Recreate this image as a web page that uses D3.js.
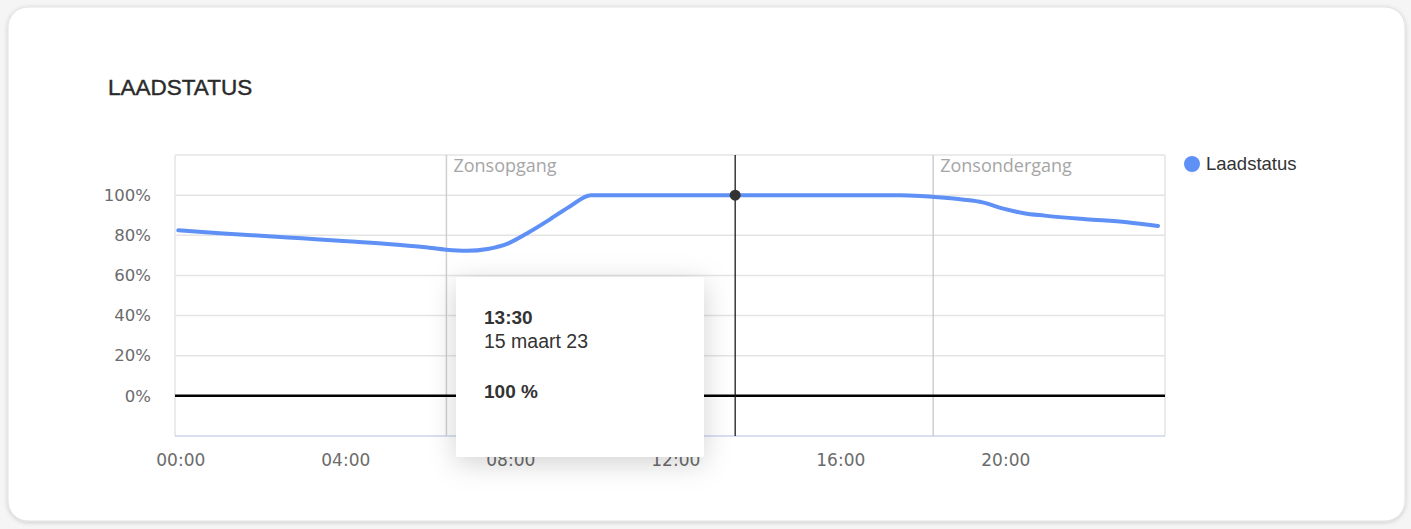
<!DOCTYPE html>
<html>
<head>
<meta charset="utf-8">
<script src="https://cdn.jsdelivr.net/npm/d3@7"></script>
<style>
  html, body { margin: 0; padding: 0; background: #f3f3f3; }
  svg { display: block; }
</style>
</head>
<body>
<svg id="chart" width="1411" height="529"></svg>
<script>
// ---- data ----
const title = "LAADSTATUS";
const seriesName = "Laadstatus";
const times = ["00:00","01:00","02:00","03:00","04:00","05:00","06:00","06:30","07:00","07:30",
  "08:00","08:30","09:00","09:30","10:00","11:00","12:00","13:00","13:30","14:00","15:00","16:00",
  "17:00","17:30","18:00","18:30","19:00","19:30","20:00","20:30","21:00","22:00","23:00","23:45"];
const values = [82.5,81,79.8,78.5,77.2,75.8,74,72.8,72.3,73.2,
  76,81.5,87.8,94.5,100,100,100,100,100,100,100,100,
  100,100,99.6,98.8,97.8,96.4,93.3,91,89.8,88,86.5,84.6];
const yTicks = [0, 20, 40, 60, 80, 100];
const xTicks = ["00:00","04:00","08:00","12:00","16:00","20:00"];
const events = [{time: "06:30", label: "Zonsopgang"}, {time: "18:18", label: "Zonsondergang"}];
const hover = {time: "13:30", date: "15 maart 23", value: 100};

// ---- helpers ----
const toH = t => { const [h, m] = t.split(":").map(Number); return h + m / 60; };
const svg = d3.select("#chart");
const W = 1411, H = 529;
const defs = svg.append("defs");
const f1 = defs.append("filter").attr("id", "cardShadow").attr("x", "-5%").attr("y", "-5%").attr("width", "110%").attr("height", "110%");
f1.append("feDropShadow").attr("dx", 0).attr("dy", 1).attr("stdDeviation", 2).attr("flood-color", "#000").attr("flood-opacity", 0.18);
const f2 = defs.append("filter").attr("id", "tipShadow").attr("x", "-30%").attr("y", "-30%").attr("width", "160%").attr("height", "160%");
f2.append("feDropShadow").attr("dx", 0).attr("dy", 6).attr("stdDeviation", 14).attr("flood-color", "#000").attr("flood-opacity", 0.18);

// card
svg.append("rect").attr("x", 0).attr("y", 0).attr("width", W).attr("height", H).attr("fill", "#f5f5f5");
svg.append("rect").attr("x", 8).attr("y", 7).attr("width", 1397).attr("height", 514).attr("rx", 20)
  .attr("fill", "#fff").attr("stroke", "#e2e2e2").attr("filter", "url(#cardShadow)");

// title
svg.append("text").attr("x", 108).attr("y", 95).text(title)
  .attr("font-family", "Liberation Sans, Arial, sans-serif").attr("font-size", 22.5)
  .attr("fill", "#2a2a2a").attr("stroke", "#2a2a2a").attr("stroke-width", 0.4);

// scales
const L = 175, R = 1165, T = 155, B = 436;
const x = d3.scaleLinear().domain([-0.08, 23.92]).range([L, R]);
const y = d3.scaleLinear().domain([-20, 120]).range([B, T]);

const g = svg.append("g");
// grid
g.selectAll(".grid").data(yTicks.filter(d => d !== 0)).join("line")
  .attr("x1", L).attr("x2", R).attr("y1", d => y(d)).attr("y2", d => y(d))
  .attr("stroke", "#e4e4e4").attr("stroke-width", 1.5);
// frame
g.append("line").attr("x1", L).attr("x2", R).attr("y1", T).attr("y2", T).attr("stroke", "#e4e4e4").attr("stroke-width", 1.5);
g.append("line").attr("x1", L).attr("x2", L).attr("y1", T).attr("y2", B).attr("stroke", "#e4e4e4").attr("stroke-width", 1.5);
g.append("line").attr("x1", R).attr("x2", R).attr("y1", T).attr("y2", B).attr("stroke", "#e4e4e4").attr("stroke-width", 1.5);
g.append("line").attr("x1", L).attr("x2", R).attr("y1", B).attr("y2", B).attr("stroke", "#cdd5ec").attr("stroke-width", 1.5);

// y axis labels
const yAxis = d3.axisLeft(y).tickValues(yTicks).tickFormat(d => d + "%").tickSize(0).tickPadding(24);
const ya = svg.append("g").attr("transform", `translate(${L},0)`).call(yAxis);
ya.select(".domain").remove();
ya.selectAll("text").attr("font-family", "DejaVu Sans, sans-serif").attr("font-size", 16.5).attr("fill", "#6b6b6b");

// x axis labels
const xAxis = d3.axisBottom(x).tickValues(xTicks.map(toH)).tickFormat(d => xTicks[xTicks.map(toH).indexOf(d)]).tickSize(0).tickPadding(18);
const xa = svg.append("g").attr("transform", `translate(0,${B})`).call(xAxis);
xa.select(".domain").remove();
xa.selectAll("text").attr("font-family", "DejaVu Sans, sans-serif").attr("font-size", 17).attr("fill", "#6b6b6b").attr("dx", 2);

// events
events.forEach(e => {
  g.append("line").attr("x1", x(toH(e.time))).attr("x2", x(toH(e.time))).attr("y1", T).attr("y2", B)
    .attr("stroke", "#cfcfcf").attr("stroke-width", 1.5);
  g.append("text").attr("x", x(toH(e.time)) + 7).attr("y", T + 17).text(e.label)
    .attr("font-family", "Open Sans, sans-serif").attr("font-size", 18).attr("fill", "#a6a6a6");
});

// zero line
g.append("line").attr("x1", L).attr("x2", R).attr("y1", y(0)).attr("y2", y(0)).attr("stroke", "#000").attr("stroke-width", 2.5);

// series line
const data = times.map((t, i) => ({h: toH(t), v: values[i]}));
g.append("path").datum(data)
  .attr("d", d3.line().x(d => x(d.h)).y(d => y(d.v)).curve(d3.curveMonotoneX))
  .attr("fill", "none").attr("stroke", "#5f90f5").attr("stroke-width", 4).attr("stroke-linecap", "round").attr("stroke-linejoin", "round");

// hover line + dot
const hx = x(toH(hover.time));
g.append("line").attr("x1", hx).attr("x2", hx).attr("y1", T).attr("y2", B).attr("stroke", "#1a1a1a").attr("stroke-width", 1.3);
g.append("circle").attr("cx", hx).attr("cy", y(hover.value)).attr("r", 5.5).attr("fill", "#333");

// legend
svg.append("circle").attr("cx", 1192).attr("cy", 164).attr("r", 8).attr("fill", "#5f90f5");
svg.append("text").attr("x", 1206).attr("y", 170).text(seriesName)
  .attr("font-family", "Liberation Sans, Arial, sans-serif").attr("font-size", 18.5).attr("fill", "#333");

// tooltip
const tip = svg.append("g").attr("transform", "translate(456,277)");
tip.append("rect").attr("width", 248).attr("height", 180).attr("rx", 2).attr("fill", "#fff").attr("filter", "url(#tipShadow)");
tip.append("text").attr("x", 28).attr("y", 47).text(hover.time)
  .attr("font-family", "Liberation Sans, Arial, sans-serif").attr("font-size", 19).attr("font-weight", "bold").attr("fill", "#333");
tip.append("text").attr("x", 28).attr("y", 71).text(hover.date)
  .attr("font-family", "Liberation Sans, Arial, sans-serif").attr("font-size", 19.5).attr("fill", "#333");
tip.append("text").attr("x", 28).attr("y", 121).text(hover.value + " %")
  .attr("font-family", "Liberation Sans, Arial, sans-serif").attr("font-size", 19).attr("font-weight", "bold").attr("fill", "#333");
</script>
</body>
</html>
